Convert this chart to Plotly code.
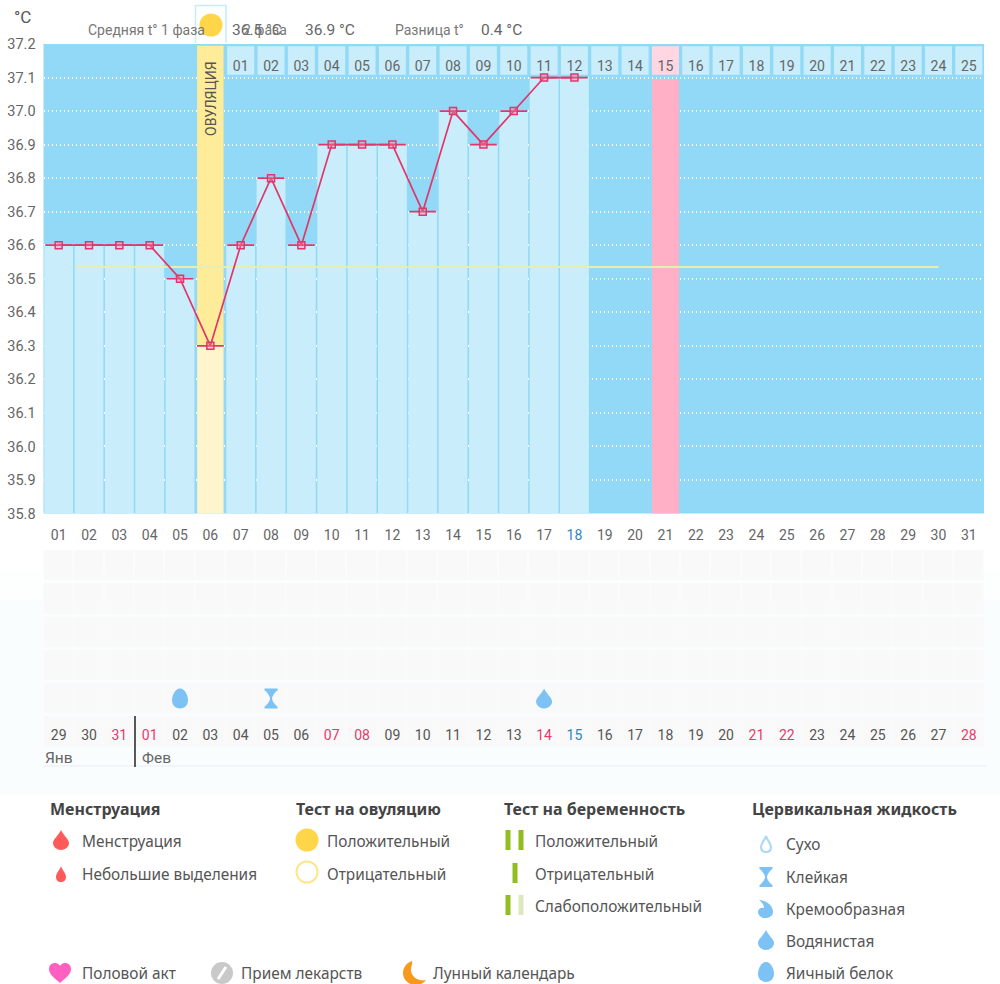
#!/usr/bin/env python
# coding=utf-8
import plotly.graph_objs as go

days = list(range(1, 32))
temps = [36.6, 36.6, 36.6, 36.6, 36.5, 36.3, 36.6, 36.8, 36.6, 36.9, 36.9, 36.9,
         36.7, 37.0, 36.9, 37.0, 37.1, 37.1]
mean_line_x = [1.57, 30.0]
mean_line_y = [36.535, 36.535]
ovulation_day = 6
period_day = 21

y_ticks = [37.2, 37.1, 37.0, 36.9, 36.8, 36.7, 36.6, 36.5, 36.4, 36.3, 36.2, 36.1,
           36.0, 35.9, 35.8]
dates_top = ["%02d" % d for d in days]
dates_bottom = ["29", "30", "31"] + ["%02d" % d for d in range(1, 29)]
cycle_labels = ["%02d" % d for d in range(1, 26)]
red_dates = ["31", "01", "07", "08", "14", "21", "22", "28"]

fluid_days = [5, 8, 17]

GREY = "#666666"
PINK = "#E0376B"
RED_TEXT = "#E5396E"
BLUE_TEXT = "#2E86C1"
BLUE = "#91D9F7"
LIGHT = "#C9EDFB"
YELLOW = "#FFEC99"
PALE_YELLOW = "#FFF5CC"
ICON_BLUE = "#7CC2F5"
GREEN = "#8FBE1E"

X0, X1 = 43.5, 984.0
W, H = 1000, 984

DROP = "M0,10 C2,5 8,1 8,-3 C8,-7 4,-10 0,-10 C-4,-10 -8,-7 -8,-3 C-8,1 -2,5 0,10 Z"
SMALL_DROP = "M0,8 C1,4 5,1 5,-3 C5,-6 3,-8 0,-8 C-3,-8 -5,-6 -5,-3 C-5,1 -1,4 0,8 Z"
EGG = "M0,10 C5,10 8,3 8,-2 C8,-7 4,-10 0,-10 C-4,-10 -8,-7 -8,-2 C-8,3 -5,10 0,10 Z"
SAND = "M-6.5,10 L6.5,10 L6.5,8 L5,7 C2.5,4 1,2 1,0 C1,-2 2.5,-4 5,-7 L6.5,-8 L6.5,-10 L-6.5,-10 L-6.5,-8 L-5,-7 C-2.5,-4 -1,-2 -1,0 C-1,2 -2.5,4 -5,7 L-6.5,8 Z"
CREAM = "M-7,9 C-1,9 7,4 7,-3 C7,-7 3,-9 -1,-9 C-5,-9 -8,-6 -8,-3 C-8,0 -5,2 -2,1 C-2,4 -4,7 -7,9 Z"
HEART = "M0,-10 C-4,-6 -11,-2 -11,4 C-11,8 -8,10 -5,10 C-3,10 -1,9 0,7 C1,9 3,10 5,10 C8,10 11,8 11,4 C11,-2 4,-6 0,-10 Z"
MOON = "M-2,12 C-8,10 -11,5 -11,0 C-11,-7 -5,-12 2,-12 C6,-12 10,-10 12,-7 C9,-8 5,-7 3,-6 C-1,-4 -3,0 -3,3 C-3,7 -1,10 -2,12 Z"

shapes = []
annotations = []


def icon(path, x, y, color, line=None, xref="x3", yref="y3"):
    shapes.append(dict(
        type="path", path=path, xref=xref, yref=yref,
        xsizemode="pixel", ysizemode="pixel", xanchor=x, yanchor=y,
        fillcolor=color if line is None else "rgba(0,0,0,0)",
        line=dict(color=line if line else color, width=2 if line else 0),
        layer="above",
    ))


def box(x0, y0, x1, y1, color, layer="above"):
    shapes.append(dict(type="rect", xref="x3", yref="y3", x0=x0, y0=y0, x1=x1, y1=y1,
                       fillcolor=color, line=dict(width=0), layer=layer))


def disc(x, y, r, fill, line=None):
    shapes.append(dict(type="circle", xref="x3", yref="y3",
                       x0=x - r, y0=y - r, x1=x + r, y1=y + r, fillcolor=fill,
                       line=dict(color=line if line else fill, width=2 if line else 0),
                       layer="above"))


def label(x, y, text, size=14, color=GREY, font="Roboto", anchor="left", angle=0):
    annotations.append(dict(
        x=x - 1 if anchor == "left" else x, y=y, xref="x3", yref="y3", text=text,
        showarrow=False, borderpad=0,
        xanchor=anchor, yanchor="middle", textangle=angle,
        font=dict(family=font, size=size, color=color),
    ))


def date_color(text):
    return RED_TEXT if text in red_dates else BLUE_TEXT if text == "15" else "#555555"


fig = go.Figure()

# temperature chart
fig.add_trace(go.Bar(x=days[:5] + days[6:18], y=temps[:5] + temps[6:18],
                     width=0.95, marker=dict(color=LIGHT, line=dict(width=0))))
fig.add_trace(go.Bar(x=[ovulation_day], y=[temps[ovulation_day - 1]],
                     width=0.87, marker=dict(color=PALE_YELLOW, line=dict(width=0))))
fig.add_trace(go.Bar(x=[ovulation_day], y=[37.195 - temps[ovulation_day - 1]],
                     base=temps[ovulation_day - 1], width=0.87,
                     marker=dict(color=YELLOW, line=dict(width=0))))
fig.add_trace(go.Bar(x=[period_day], y=[37.095], width=0.89,
                     marker=dict(color="#FFB0C6", line=dict(width=0))))
# cycle day header cells
cycle_x = days[ovulation_day:]
cycle_colors = ["#FFD6E2" if d == period_day else LIGHT for d in cycle_x]
fig.add_trace(go.Bar(x=cycle_x, y=[0.085] * len(cycle_x), base=37.108, width=0.89,
                     marker=dict(color=cycle_colors, line=dict(width=0))))
fig.add_trace(go.Scatter(x=cycle_x, y=[37.131] * len(cycle_x), text=cycle_labels, mode="text",
                         textfont=dict(family="Roboto", size=14, color=GREY)))
fig.add_trace(go.Scatter(x=mean_line_x, y=mean_line_y, mode="lines",
                         line=dict(color="#E6EEB4", width=2)))
fig.add_trace(go.Scatter(
    x=days[:18], y=temps, mode="lines+markers",
    line=dict(color=PINK, width=1.7),
    marker=dict(symbol="square", size=7, color="rgba(255,130,165,0.35)",
                line=dict(color=PINK, width=1.5)),
    error_x=dict(type="constant", value=0.44, thickness=1.7, width=0, color=PINK),
))

# lower table
fig.add_trace(go.Heatmap(
    x=days, y=[1, 2, 3, 4, 5, 6], z=[[1] * 31 for _ in range(6)],
    colorscale=[[0, "#F9F9F9"], [1, "#F9F9F9"]], showscale=False, xgap=1, ygap=3,
    xaxis="x2", yaxis="y2", hoverinfo="skip",
))
fig.add_trace(go.Scatter(
    x=days, y=[6.15] * 31, text=dates_bottom, mode="text", xaxis="x2", yaxis="y2",
    textfont=dict(family="Roboto", size=14, color=[date_color(t) for t in dates_bottom]),
))

fluid_icons = [EGG, SAND, DROP]
for d, path in zip(fluid_days, fluid_icons):
    icon(path, d, 5, ICON_BLUE, xref="x2", yref="y2")

# invisible trace keeps the overlay axes alive
fig.add_trace(go.Scatter(x=[0, W], y=[0, H], mode="markers", marker=dict(opacity=0),
                         xaxis="x3", yaxis="y3", hoverinfo="skip"))

# blue background of the chart and page tint
shapes.append(dict(type="rect", xref="x domain", yref="y domain", x0=0, y0=0, x1=1, y1=1,
                   fillcolor=BLUE, line=dict(width=0), layer="below"))
shapes.append(dict(type="rect", xref="paper", yref="paper", x0=0, x1=1,
                   y0=1 - 600 / H, y1=1 - 570 / H,
                   fillcolor="#FDFEFE", line=dict(width=0), layer="below"))
shapes.append(dict(type="rect", xref="paper", yref="paper", x0=0, x1=1,
                   y0=1 - 795 / H, y1=1 - 600 / H,
                   fillcolor="#FAFDFE", line=dict(width=0), layer="below"))
shapes.append(dict(type="line", xref="x domain", yref="y", x0=0, x1=1, y0=37.2, y1=37.2,
                   line=dict(color=BLUE, width=2), layer="above"))

# header
shapes.append(dict(type="path", xref="x3", yref="y3", path="M 195.5 43 L 195.5 5.5 L 226 5.5 L 226 43",
                   line=dict(color="#C5ECFB", width=1.5), layer="above"))
disc(211, 25, 11.5, "#FFD64A")
label(14, 17, "°C", size=17, color="#555555")
label(88, 30, "Средняя t° 1 фаза", size=14, color="#777777")
label(232, 30, "36.5 °C", size=15.5, color="#666666")
label(243, 30, "2 фаза", size=14, color="#777777")
label(305, 30, "36.9 °C", size=15.5, color="#666666")
label(395, 30, "Разница t°", size=14, color="#777777")
label(481, 30, "0.4 °C", size=15.5, color="#666666")
label(211, 99, "ОВУЛЯЦИЯ", size=14, color="#555555", anchor="center", angle=-90)

# month row
label(45, 758, "Янв", size=15.5, color="#666666")
label(142, 758, "Фев", size=15.5, color="#666666")
shapes.append(dict(type="line", xref="x3", yref="y3", x0=135, x1=135, y0=716, y1=767,
                   line=dict(color="#222222", width=1.5), layer="above"))
shapes.append(dict(type="line", xref="x3", yref="y3", x0=43, x1=986, y0=766, y1=766,
                   line=dict(color="#EEF2F4", width=1.5), layer="below"))

# legend
LEGEND_FONT = "Noto Sans"
TXT = "#555555"
LEGEND_SIZE = 15.4
for x, text in [(50, "Менструация"), (296, "Тест на овуляцию"),
                (504, "Тест на беременность"), (752, "Цервикальная жидкость")]:
    label(x, 809, "<b>%s</b>" % text, size=16, color="#444444", font=LEGEND_FONT)

icon(DROP, 61, 840, "#FF5A5A")
icon(SMALL_DROP, 61, 874, "#FF5A5A")
label(82, 841, "Менструация", size=LEGEND_SIZE, color=TXT, font=LEGEND_FONT)
label(82, 874, "Небольшие выделения", size=LEGEND_SIZE, color=TXT, font=LEGEND_FONT)

disc(307, 840, 11.5, "#FFD64A")
disc(307, 872, 10.5, "#FFFFFF", "#FFE58A")
label(327, 841, "Положительный", size=LEGEND_SIZE, color=TXT, font=LEGEND_FONT)
label(327, 874, "Отрицательный", size=LEGEND_SIZE, color=TXT, font=LEGEND_FONT)

box(505.5, 830, 510.5, 850, GREEN)
box(518.5, 830, 523.5, 850, GREEN)
box(512.5, 863, 517.5, 883, GREEN)
box(505.5, 895, 510.5, 915, GREEN)
box(518.5, 895, 523.5, 915, "#DDE8BE")
label(535, 841, "Положительный", size=LEGEND_SIZE, color=TXT, font=LEGEND_FONT)
label(535, 874, "Отрицательный", size=LEGEND_SIZE, color=TXT, font=LEGEND_FONT)
label(535, 906, "Слабоположительный", size=LEGEND_SIZE, color=TXT, font=LEGEND_FONT)

icon(SMALL_DROP, 766, 844, "#FFFFFF", line="#A8D8F5")
icon(SAND, 766, 877, ICON_BLUE)
icon(CREAM, 766, 909, ICON_BLUE)
icon(DROP, 766, 940, ICON_BLUE)
icon(EGG, 766, 972, ICON_BLUE)
label(786, 844, "Сухо", size=LEGEND_SIZE, color=TXT, font=LEGEND_FONT)
label(786, 877, "Клейкая", size=LEGEND_SIZE, color=TXT, font=LEGEND_FONT)
label(786, 909, "Кремообразная", size=LEGEND_SIZE, color=TXT, font=LEGEND_FONT)
label(786, 941, "Водянистая", size=LEGEND_SIZE, color=TXT, font=LEGEND_FONT)
label(786, 973, "Яичный белок", size=LEGEND_SIZE, color=TXT, font=LEGEND_FONT)

icon(HEART, 60, 973, "#FF5FBF")
label(82, 973, "Половой акт", size=LEGEND_SIZE, color=TXT, font=LEGEND_FONT)
disc(222, 973, 11, "#C9C9C9")
shapes.append(dict(type="line", xref="x3", yref="y3", x0=218, x1=226, y0=979, y1=967,
                   line=dict(color="#FFFFFF", width=3), layer="above"))
label(241, 973, "Прием лекарств", size=LEGEND_SIZE, color=TXT, font=LEGEND_FONT)
icon(MOON, 414, 973, "#F7991C")
label(433, 973, "Лунный календарь", size=LEGEND_SIZE, color=TXT, font=LEGEND_FONT)

tick_text = ['<span style="color:%s">%s</span>' % (BLUE_TEXT if t == "18" else GREY, t)
             for t in dates_top]

fig.update_layout(
    width=W, height=H,
    margin=dict(l=0, r=0, t=0, b=0),
    paper_bgcolor="white", plot_bgcolor="rgba(0,0,0,0)",
    barmode="overlay", showlegend=False, hovermode=False,
    shapes=shapes, annotations=annotations,
    font=dict(family="Roboto", color=GREY),
    xaxis=dict(
        domain=[X0 / W, X1 / W], range=[0.5, 31.5], anchor="y", automargin=False,
        tickvals=days, ticktext=tick_text, ticks="outside", ticklen=9,
        tickcolor="rgba(0,0,0,0)", tickfont=dict(family="Roboto", size=14, color=GREY),
        showgrid=False, zeroline=False, showline=False, fixedrange=True,
    ),
    yaxis=dict(
        domain=[1 - 513.5 / H, 1 - 44 / H], range=[35.8, 37.2], anchor="x", automargin=False,
        tickvals=y_ticks, tickformat=".1f", ticks="outside", ticklen=4,
        tickcolor="rgba(0,0,0,0)", tickfont=dict(family="Roboto", size=14.5, color=GREY),
        showgrid=True, gridcolor="white", gridwidth=1.5, griddash="1.5px,2.5px",
        zeroline=False, showline=False, fixedrange=True,
    ),
    xaxis2=dict(domain=[X0 / W, X1 / W], range=[0.5, 31.5], anchor="y2", visible=False,
                automargin=False, fixedrange=True),
    yaxis2=dict(domain=[1 - 748.5 / H, 1 - 549 / H], range=[6.5, 0.5], anchor="x2", visible=False,
                automargin=False, fixedrange=True),
    xaxis3=dict(domain=[0, 1], range=[0, W], anchor="y3", visible=False, automargin=False,
                fixedrange=True),
    yaxis3=dict(domain=[0, 1], range=[H, 0], anchor="x3", visible=False, automargin=False,
                fixedrange=True),
)

fig.write_html("out.html", config=dict(displayModeBar=False),
               post_script="document.body.style.margin='0';")
